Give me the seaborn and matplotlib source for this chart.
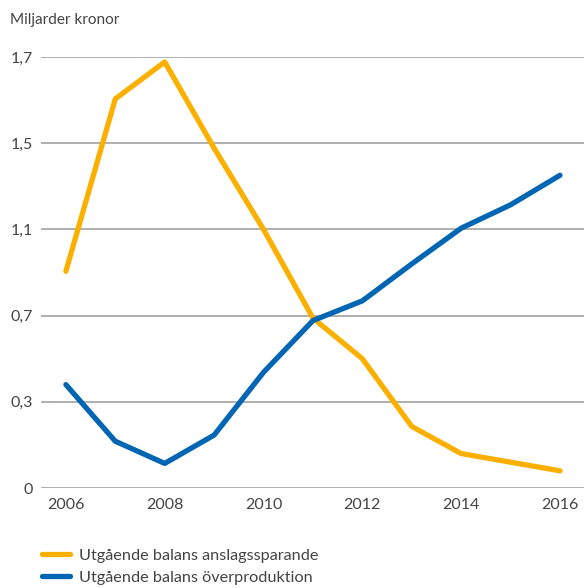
import matplotlib
matplotlib.use("Agg")
import matplotlib.pyplot as plt
import seaborn as sns
import pandas as pd

years = list(range(2006, 2017))
anslagssparande = [0.88, 1.58, 1.73, 1.38, 1.05, 0.69, 0.525, 0.25, 0.14, 0.105, 0.07]
overproduktion = [0.42, 0.19, 0.10, 0.215, 0.47, 0.68, 0.76, 0.91, 1.055, 1.15, 1.27]
series_names = ["Utgående balans anslagssparande", "Utgående balans överproduktion"]
y_ticks = [0, 0.35, 0.7, 1.05, 1.4, 1.75]
y_tick_labels = ["0", "0,3", "0,7", "1,1", "1,5", "1,7"]
x_ticks = [2006, 2008, 2010, 2012, 2014, 2016]

df = pd.DataFrame({
    "year": years * 2,
    "value": anslagssparande + overproduktion,
    "serie": [series_names[0]] * len(years) + [series_names[1]] * len(years),
})

sns.set_style("white")
plt.rcParams["font.family"] = ["Lato", "DejaVu Sans"]
text_col = "#444444"

fig = plt.figure(figsize=(5.84, 5.88), dpi=100)
ax = fig.add_axes([0.070, 0.170, 0.930, 0.733])

palette = {series_names[0]: "#fbb000", series_names[1]: "#0066b3"}
sns.lineplot(data=df, x="year", y="value", hue="serie", palette=palette,
             linewidth=3.8, ax=ax, legend=False, clip_on=False,
             solid_capstyle="round", solid_joinstyle="round", zorder=3)

ax.set_xlim(2005.494, 2016.486)
ax.set_ylim(0, 1.75)
ax.set_yticks(y_ticks)
ax.set_yticklabels(y_tick_labels)
ax.set_xticks(x_ticks)
ax.set_xticklabels([str(x) for x in x_ticks])
for y in y_ticks:
    ax.axhline(y, color="#9a9a9a", linewidth=1.1, zorder=1)
for s in ax.spines.values():
    s.set_visible(False)
ax.tick_params(axis="both", length=0, labelsize=11.5, colors=text_col)
ax.tick_params(axis="y", pad=6)
ax.tick_params(axis="x", pad=7)
ax.set_xlabel("")
ax.set_ylabel("")

fig.text(0.017, 0.966, "Miljarder kronor", fontsize=11, color=text_col, va="center")

handles = [plt.Line2D([0], [0], color=palette[n], linewidth=3.8, solid_capstyle="round")
           for n in series_names]
fig.legend(handles, series_names, loc="lower left", bbox_to_anchor=(0.052, -0.014),
           frameon=False, fontsize=11.7, labelcolor=text_col, handlelength=1.75,
           handletextpad=0.55, labelspacing=0.45, borderpad=0.2)

fig.savefig("out.png", dpi=100)
